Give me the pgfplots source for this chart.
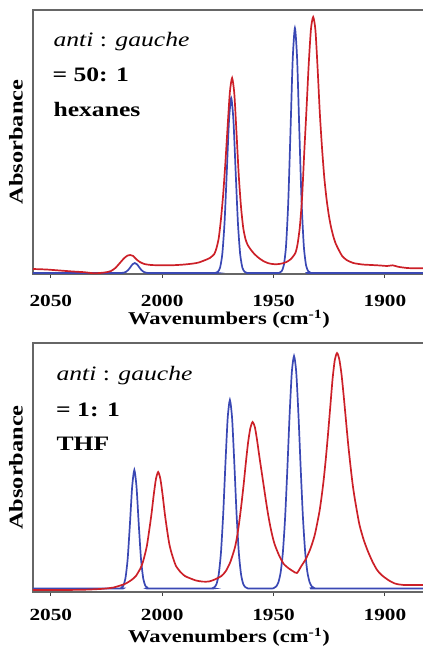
\documentclass[border=0pt]{standalone}
\usepackage{fontspec}
\setmainfont{Liberation Serif}[FakeStretch=1.25]
\usepackage{pgfplots}
\pgfplotsset{compat=1.18}

\definecolor{specblue}{RGB}{58,72,180}
\definecolor{specred}{RGB}{204,32,40}

\pgfplotsset{
  spec/.style={
    scale only axis, width=392pt,
    x dir=reverse, xmin=1882, xmax=2058, ymin=0,
    xtick={1900,1950,2000,2050}, ytick=\empty, xtick pos=left,
    tick align=outside, major tick length=4pt,
    axis line style={black!60, line width=1.2pt},
    every tick/.style={black!75, line width=1pt},
    /pgf/number format/assume math mode=true,
    /pgf/number format/set thousands separator={},
    xticklabel style={font=\fontsize{17}{18}\selectfont\bfseries, anchor=center, inner sep=0pt},
    xlabel={Wavenumbers (cm\textsuperscript{-1})},
    xlabel style={font=\fontsize{18}{20}\selectfont\bfseries, at={(axis description cs:0.5,0)}, anchor=center, inner sep=0pt, yshift=-45pt},
    ylabel={Absorbance},
    ylabel style={font=\fontsize{19.5}{21}\selectfont\bfseries, at={(axis description cs:-0.0434,0.5)}, anchor=center, inner sep=0pt},
  },
  blueline/.style={specblue, line width=1.7pt, smooth, tension=0.4, no marks},
  redline/.style={specred, line width=1.7pt, smooth, tension=0.4, no marks},
}

\begin{document}
\begin{tikzpicture}
\useasboundingbox (0,0) rectangle (423pt,-648pt);

% hexanes
\begin{axis}[spec, at={(33pt,-10pt)}, anchor=north west, height=264pt, ymax=264,
  xticklabel style={yshift=-23pt}]
\addplot[blueline] coordinates {
(2058,1) (2020,1) (2018.3,1.07) (2017.3,1.31) (2016.3,2.09) (2015.3,3.88) (2014.3,6.75)
(2013.3,9.71) (2012.3,11) (2011.3,9.71) (2010.3,6.75) (2009.3,3.88) (2008.3,2.09)
(2007.3,1.31) (2006.3,1.07) (2005,1) (1977,1)
(1976,1.2) (1975,2.2) (1974,6.4) (1973,20.1) (1972,51.4) (1971,101.6) (1970,153.4)
(1969,176) (1968,153.4) (1967,101.6) (1966,51.4) (1965,20.1) (1964,6.4) (1963,2.2)
(1962,1.2) (1961,1) (1948.4,1)
(1947.4,1.3) (1946.4,2.7) (1945.4,8.6) (1944.4,27.7) (1943.4,71.6) (1942.4,141.9)
(1941.4,214.4) (1940.4,246) (1939.4,214.4) (1938.4,141.9) (1937.4,71.6) (1936.4,27.7)
(1935.4,8.6) (1934.4,2.7) (1933.4,1.3) (1932.4,1) (1882,1)
};
\addplot[redline] coordinates {
(2058,5) (2052,4.5) (2046,3.5) (2040,2.5) (2035,1.8) (2031,0.8) (2028,1.0) (2025,1.8)
(2023,3) (2021,6) (2019,11) (2017,16) (2015.5,18.5) (2014.3,19) (2013,18) (2011.5,14.5)
(2010,12) (2008,10) (2005,9) (2000,8.7) (1995,8.8) (1990,9.5) (1986,10.5) (1983.6,11.5)
(1980.6,14) (1978.6,16) (1976.6,20) (1975.6,26) (1974.6,36) (1973.6,55) (1972.6,80)
(1971.6,112) (1970.6,148) (1969.6,182) (1968.6,196) (1967.6,180) (1966.6,140)
(1965.6,98) (1964.6,67) (1963.6,46) (1962.6,35) (1961.6,29) (1960.1,24) (1958.6,20)
(1956.6,16) (1954.6,13) (1952.6,11) (1950.6,10) (1948.5,9.8) (1946.2,10.5) (1944.2,12)
(1942.2,15) (1940.2,21) (1939.2,30) (1938.2,47) (1937.2,76) (1936.2,122) (1935.2,165)
(1934.2,210) (1933.2,245) (1932.2,257) (1931.2,244) (1930.2,205) (1929.2,160)
(1928.2,125) (1927.2,96) (1926.2,75) (1925.2,59) (1924.2,47) (1923.2,38) (1922.2,31)
(1920.7,24) (1919.2,18) (1917.2,14) (1914.2,11) (1910,9.5) (1906,9) (1902,8.5)
(1899,8) (1896.5,8.7) (1894,7.2) (1890,6) (1886,5.7) (1882,5.8)
};
\node[anchor=base west, xshift=17pt, yshift=-36.7pt, font=\fontsize{20.5}{24}\selectfont]
  at (rel axis cs:0,1) {\textit{anti} : \textit{gauche}};
\node[anchor=base west, xshift=16pt, yshift=-71.7pt, font=\fontsize{20.5}{24}\selectfont\bfseries]
  at (rel axis cs:0,1) {= 50: 1};
\node[anchor=base west, xshift=17pt, yshift=-106.7pt, font=\fontsize{20.5}{24}\selectfont\bfseries]
  at (rel axis cs:0,1) {hexanes};
\end{axis}

% THF
\begin{axis}[spec, at={(33pt,-343pt)}, anchor=north west, height=249pt, ymax=249,
  xticklabel style={yshift=-18.5pt}]
\addplot[blueline] coordinates {
(2058,3.5) (2019.5,3.5) (2018.5,4.0) (2017.5,6.0) (2016.5,13.5) (2015.5,32.9) (2014.5,67.1)
(2013.5,104.6) (2012.5,122) (2011.5,104.6) (2010.5,67.1) (2009.5,32.9) (2008.5,13.5)
(2007.5,6.0) (2006.5,4.0) (2005.5,3.5) (1978.6,3.5)
(1977.6,3.7) (1976.6,4.7) (1975.6,8.0) (1974.6,17.8) (1973.6,39.7) (1972.6,78)
(1971.6,128.3) (1970.6,173.5) (1969.6,192) (1968.6,173.5) (1967.6,128.3) (1966.6,78)
(1965.6,39.7) (1964.6,17.8) (1963.6,8.0) (1962.6,4.7) (1961.6,3.7) (1960.6,3.5) (1950.8,3.5)
(1949.8,4.1) (1948.8,5.5) (1947.8,9.8) (1946.8,19.8) (1945.8,40) (1944.8,74.6)
(1943.8,123) (1942.8,176.5) (1941.8,219.5) (1940.8,236) (1939.8,219.5) (1938.8,176.5)
(1937.8,123) (1936.8,74.6) (1935.8,40) (1934.8,19.8) (1933.8,9.8) (1932.8,5.5)
(1931.8,4.1) (1930.8,3.5) (1882,3.5)
};
\addplot[redline] coordinates {
(2058,2) (2045,2) (2035,2.3) (2028,3) (2024,3.8) (2021.8,4.5) (2016.8,8) (2013.8,12)
(2011.8,16) (2009.8,23.5) (2008.8,29) (2007.8,37) (2006.8,47) (2005.8,62) (2004.8,78)
(2003.8,97) (2002.8,113) (2001.8,120) (2000.8,113) (1999.8,97) (1998.8,78) (1997.8,62)
(1996.8,48) (1995.8,39) (1994.8,32) (1993.8,26) (1991.8,20) (1989.8,16) (1987.8,14)
(1984.8,11.5) (1981.8,10.4) (1979,10.5) (1976.4,12.5) (1973.4,16) (1971.4,21)
(1969.4,30) (1967.4,44) (1966.4,55) (1965.4,70) (1964.4,88) (1963.4,108) (1962.4,130)
(1961.4,150) (1960.4,164) (1959.4,170) (1958.4,165) (1957.4,152) (1956.4,136)
(1955.4,121) (1954.4,106) (1953.4,91) (1952.4,77) (1951.4,65) (1950.4,55) (1949.4,47)
(1947.4,36) (1945.4,28) (1943.4,24) (1941.4,21) (1939.5,19) (1937.5,26) (1935.5,33)
(1933.5,43) (1931.5,57) (1929.5,79) (1928.5,94) (1927.5,112) (1926.5,134) (1925.5,159)
(1924.5,186) (1923.5,213) (1922.5,232) (1921.5,239) (1920.5,233) (1919.5,218)
(1918.5,196) (1917.5,172) (1916.5,148) (1915.5,127) (1914.5,108) (1913.5,93)
(1911.5,68) (1909.5,52) (1907.5,40) (1905.5,30) (1903.5,22) (1901.5,17) (1898.5,12)
(1895.5,8.5) (1891.5,7) (1882,7)
};
\node[anchor=base west, xshift=20pt, yshift=-37pt, font=\fontsize{20.5}{24}\selectfont]
  at (rel axis cs:0,1) {\textit{anti} : \textit{gauche}};
\node[anchor=base west, xshift=19.7pt, yshift=-73.7pt, font=\fontsize{20.5}{24}\selectfont\bfseries]
  at (rel axis cs:0,1) {= 1: 1};
\node[anchor=base west, xshift=20pt, yshift=-107pt, font=\fontsize{20.5}{24}\selectfont\bfseries]
  at (rel axis cs:0,1) {THF};
\end{axis}
\end{tikzpicture}
\end{document}
